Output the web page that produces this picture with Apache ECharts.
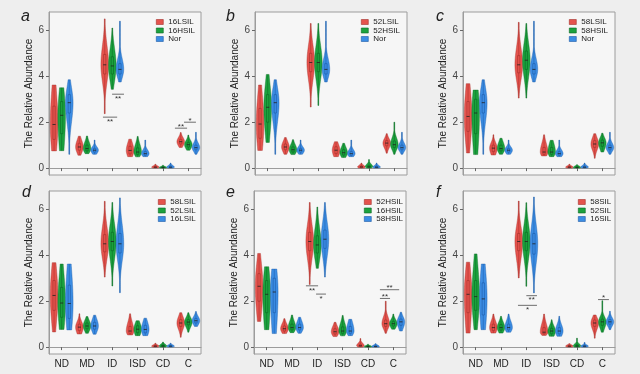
<!DOCTYPE html>
<html><head><meta charset="utf-8">
<script src="https://cdn.jsdelivr.net/npm/echarts@6/dist/echarts.min.js"></script>
<style>html,body{margin:0;padding:0;background:#eeeeee}#c{width:640px;height:374px}</style>
</head><body><div id="c"></div>
<script>
const categories = ['ND', 'MD', 'ID', 'ISD', 'CD', 'C'];
const yTicks = [0, 2, 4, 6];
const panelLetters = ['a', 'b', 'c', 'd', 'e', 'f'];

// each row (per category): [min, q1, median, q3, max]
const lsil16 = [[0.75,1.25,1.9,2.7,3.62],[0.56,0.78,0.92,1.08,1.39],[2.37,4.1,4.5,4.95,6.5],[0.5,0.62,0.77,0.95,1.26],[0,0.02,0.04,0.07,0.17],[0.9,1.05,1.15,1.25,1.55]];
const hsil16 = [[0.76,1.5,2.3,2.9,3.5],[0.63,0.75,0.85,1.0,1.4],[3.43,4.1,4.45,4.85,6.1],[0.49,0.6,0.7,0.88,1.38],[0,0.01,0.03,0.05,0.13],[0.78,0.92,1.02,1.12,1.44]];
const nor = [[0.6,2.4,2.85,3.2,3.85],[0.6,0.7,0.78,0.86,1.22],[3.75,4.1,4.3,4.55,6.4],[0.5,0.56,0.63,0.72,1.22],[0,0.02,0.04,0.08,0.22],[0.6,0.8,0.89,1.0,1.56]];
const lsil52 = [[0.77,1.3,1.92,2.6,3.62],[0.6,0.8,0.92,1.05,1.33],[2.66,4.2,4.6,5.0,6.3],[0.5,0.63,0.78,0.93,1.15],[0,0.02,0.05,0.09,0.22],[0.65,0.97,1.09,1.2,1.5]];
const hsil52 = [[1.12,2.0,2.65,3.2,4.08],[0.59,0.7,0.8,0.92,1.24],[2.73,4.2,4.6,5.0,6.3],[0.46,0.57,0.67,0.8,1.08],[0,0.03,0.06,0.12,0.37],[0.6,0.9,1.02,1.18,2.0]];
const lsil58 = [[0.66,1.6,2.25,2.9,3.68],[0.57,0.72,0.87,1.0,1.45],[3.05,4.15,4.5,4.9,6.35],[0.53,0.6,0.7,0.9,1.45],[0,0.02,0.04,0.07,0.17],[0.43,0.9,1.05,1.2,1.5]];
const hsil58 = [[0.59,1.5,2.4,3.0,3.4],[0.6,0.75,0.85,1.0,1.3],[3.05,4.3,4.7,5.1,6.3],[0.5,0.6,0.7,0.9,1.21],[0,0.01,0.03,0.06,0.15],[0.7,0.95,1.1,1.22,1.52]];
const sil58 = [[0.61,1.5,2.3,2.9,3.7],[0.61,0.72,0.85,1.0,1.44],[3.01,4.2,4.6,4.95,6.36],[0.51,0.58,0.65,0.85,1.44],[0,0.02,0.04,0.07,0.15],[0.39,0.9,1.05,1.18,1.4]];
const sil52 = [[0.76,1.6,2.2,2.9,4.06],[0.61,0.74,0.85,0.98,1.34],[2.65,4.2,4.6,5.0,6.29],[0.47,0.58,0.7,0.82,1.19],[0,0.02,0.05,0.1,0.39],[0.65,0.95,1.1,1.22,2.02]];
const sil16 = [[0.76,1.4,2.1,2.8,3.62],[0.65,0.75,0.85,1.0,1.44],[2.36,4.05,4.5,4.95,6.54],[0.47,0.58,0.7,0.85,1.34],[0,0.02,0.04,0.07,0.2],[0.76,1.0,1.1,1.2,1.56]];

const groupValues = {'16LSIL': lsil16, '16HSIL': hsil16, 'Nor': nor, '52LSIL': lsil52, '52HSIL': hsil52,
  '58LSIL': lsil58, '58HSIL': hsil58, '58SIL': sil58, '52SIL': sil52, '16SIL': sil16};
const panelGroups = [
  ['16LSIL', '16HSIL', 'Nor'],
  ['52LSIL', '52HSIL', 'Nor'],
  ['58LSIL', '58HSIL', 'Nor'],
  ['58LSIL', '52LSIL', '16LSIL'],
  ['52HSIL', '16HSIL', '58HSIL'],
  ['58SIL', '52SIL', '16SIL']
];
// significance marks: [categoryIndex, y, startOffset, endOffset, label, textSide]
const signifA = [[2,2.22,-0.37,0.19,'**','below'],[2,3.22,-0.01,0.46,'**','below'],[5,1.74,-0.53,-0.05,'**','above'],[5,2.0,-0.17,0.30,'*','above']];
const signifB = [];
const signifC = [];
const signifD = [];
const signifE = [[2,2.67,-0.45,0.03,'**','below'],[2,2.31,-0.05,0.34,'*','below'],[5,2.12,-0.53,-0.13,'**','above'],[5,2.5,-0.53,0.23,'**','above']];
const signifF = [[2,2.24,0,0.42,'**','below'],[2,1.82,-0.33,0.42,'*','below'],[5,2.07,-0.17,0.26,'*','above']];
const panelSignif = [signifA, signifB, signifC, signifD, signifE, signifF];

// styling / layout
const fills = ['#e5534d', '#1ca23e', '#3c8de4'];
const darks = ['#a3302b', '#0c6a25', '#1d5aa6'];
const gridPos = [[49,12,152,163],[255,12,152,163],[463,12,152,163],[49,191,152,163],[254,191,152,163],[463,191,152,163]];
const legendPos = [[156,18],[361,18],[569,18],[158,198],[364,198],[578,198]];
const letterPos = [[21,9],[226,9],[436,9],[22,185],[226,185],[436,185]];

function violinRender(offset, fill, dark) {
  return function (params, api) {
    const cat = api.value(0);
    const mn = api.value(1), q1 = api.value(2), md = api.value(3), q3 = api.value(4), mx = api.value(5);
    const band = api.size([1, 0])[0];
    const cx = api.coord([cat, md])[0] + offset * band;
    const hwMax = 0.15 * band;
    const sL = Math.max((md - q1) / 0.674 * 1.25, 0.01), sU = Math.max((q3 - md) / 0.674 * 1.25, 0.01);
    const N = 48, left = [], right = [];
    for (let i = 0; i <= N; i++) {
      const y = mn + (mx - mn) * i / N;
      const z = y < md ? (md - y) / sL : (y - md) / sU;
      const w = Math.max(hwMax * Math.exp(-0.5 * z * z), 0.4);
      const py = api.coord([cat, y])[1];
      left.push([cx - w, py]); right.push([cx + w, py]);
    }
    const pts = left.concat(right.reverse());
    const yMin = api.coord([cat, mn])[1], yMax = api.coord([cat, mx])[1];
    const yq1 = api.coord([cat, q1])[1], yq3 = api.coord([cat, q3])[1], ymd = api.coord([cat, md])[1];
    const bw = Math.max(0.045 * band, 1.1);
    return {
      type: 'group',
      children: [
        {type: 'polygon', shape: {points: pts}, style: {fill: fill, stroke: dark, lineWidth: 0.4}},
        {type: 'line', shape: {x1: cx, y1: yMin, x2: cx, y2: yMax}, style: {stroke: dark, lineWidth: 0.5}},
        {type: 'rect', shape: {x: cx - bw, y: yq3, width: 2 * bw, height: Math.max(yq1 - yq3, 0.5)}, style: {fill: fill, stroke: dark, lineWidth: 0.6}},
        {type: 'line', shape: {x1: cx - bw - 0.4, y1: ymd, x2: cx + bw + 0.4, y2: ymd}, style: {stroke: '#222', lineWidth: 0.8}}
      ]
    };
  };
}

function signifRender(list) {
  return function (params, api) {
    const cat = api.value(0), y = api.value(1), o1 = api.value(2), o2 = api.value(3);
    const band = api.size([1, 0])[0];
    const p = api.coord([cat, y]);
    const x1 = p[0] + o1 * band, x2 = p[0] + o2 * band;
    const item = list[params.dataIndex];
    const below = item[5] === 'below';
    return {
      type: 'group',
      children: [
        {type: 'line', shape: {x1: x1, y1: p[1], x2: x2, y2: p[1]}, style: {stroke: '#333', lineWidth: 0.7}},
        {type: 'text', style: {text: item[4], x: (x1 + x2) / 2, y: below ? p[1] + 0.5 : p[1] + 2.5, align: 'center',
          verticalAlign: below ? 'top' : 'bottom', fontSize: 8, fill: '#333', fontFamily: 'Liberation Sans'}}
      ]
    };
  };
}

const grid = [], xAxis = [], yAxis = [], series = [], legend = [], title = [];
gridPos.forEach(function (g, i) {
  grid.push({left: g[0], top: g[1], width: g[2], height: g[3], show: true, backgroundColor: '#f6f6f6', borderColor: '#9c9c9c', borderWidth: 1});
  const bottomRow = i >= 3;
  xAxis.push({gridIndex: i, type: 'category', data: categories,
    axisLine: {show: true, lineStyle: {color: '#9c9c9c'}},
    axisTick: {show: true, alignWithLabel: true, length: 3, lineStyle: {color: '#666'}},
    axisLabel: {show: bottomRow, fontSize: 10, color: '#222', margin: 5}});
  yAxis.push({gridIndex: i, type: 'value', min: -0.3, max: 6.8,
    axisLine: {show: true, lineStyle: {color: '#9c9c9c'}},
    splitLine: {show: false},
    axisTick: {show: true, length: 3, customValues: yTicks, lineStyle: {color: '#666'}},
    axisLabel: {customValues: yTicks, fontSize: 10, color: '#444', margin: 5},
    name: 'The Relative Abundance', nameLocation: 'middle', nameGap: 9,
    nameTextStyle: {fontSize: 10, color: '#222'}});
  panelGroups[i].forEach(function (name, j) {
    series.push({type: 'custom', name: name, xAxisIndex: i, yAxisIndex: i,
      renderItem: violinRender((j - 1) * 0.3, fills[j], darks[j]),
      itemStyle: {color: fills[j]},
      encode: {x: 0, y: [1, 2, 3, 4, 5]},
      data: groupValues[name].map(function (r, k) { return [k].concat(r); }),
      silent: true});
  });
  const sig = panelSignif[i];
  if (sig.length) {
    series.push({type: 'custom', xAxisIndex: i, yAxisIndex: i, renderItem: signifRender(sig),
      encode: {x: 0, y: 1}, data: sig.map(function (s) { return [s[0], s[1], s[2], s[3]]; }), silent: true, z: 5});
  }
  legend.push({orient: 'vertical', left: legendPos[i][0], top: legendPos[i][1], padding: 0,
    itemWidth: 7, itemHeight: 5, itemGap: 0.5, icon: 'rect', selectedMode: false,
    textStyle: {fontSize: 8, color: '#222', lineHeight: 7},
    data: panelGroups[i].map(function (name, j) {
      return {name: name, icon: 'rect', itemStyle: {color: fills[j], borderColor: darks[j], borderWidth: 0.6}};
    })});
  title.push({text: panelLetters[i], left: letterPos[i][0], top: letterPos[i][1], padding: 0,
    textStyle: {fontSize: 16, fontStyle: 'italic', fontWeight: 'normal', color: '#222', fontFamily: 'Liberation Sans'}});
});

const chart = echarts.init(document.getElementById('c'), null, {renderer: 'canvas'});
chart.setOption({
  backgroundColor: '#eeeeee',
  animation: false,
  textStyle: {fontFamily: 'Liberation Sans'},
  title: title, grid: grid, xAxis: xAxis, yAxis: yAxis, legend: legend, series: series
});
</script></body></html>
